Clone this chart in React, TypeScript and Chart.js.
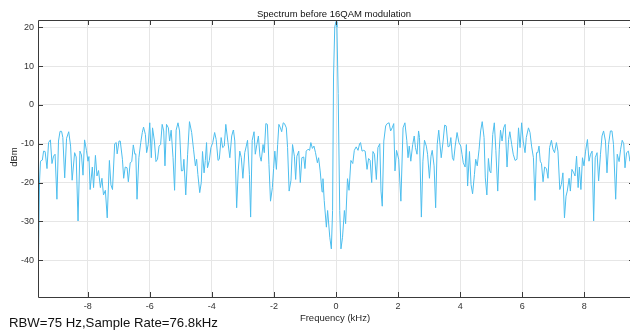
import React, { useEffect, useRef } from "react";
import { Chart, registerables } from "chart.js";

Chart.register(...registerables);

const TITLE = "Spectrum before 16QAM modulation";
const X_LABEL = "Frequency (kHz)";
const Y_LABEL = "dBm";
const FOOTNOTE = "RBW=75 Hz,Sample Rate=76.8kHz";

const X_TICKS = [-8, -6, -4, -2, 0, 2, 4, 6, 8];
const Y_TICKS = [-40, -30, -20, -10, 0, 10, 20];

// Frequency (kHz) of each traced spectrum point
const FREQ_KHZ = [
  -9.6, -9.55, -9.52, -9.46, -9.42, -9.37, -9.31, -9.26, -9.2, -9.15, -9.1, -9.05, -8.99, -8.94, -8.89, -8.84,
  -8.8, -8.74, -8.68, -8.61, -8.55, -8.5, -8.42, -8.37, -8.31, -8.25, -8.2, -8.15, -8.1, -8.04, -7.99, -7.96,
  -7.92, -7.85, -7.81, -7.75, -7.7, -7.65, -7.59, -7.54, -7.49, -7.43, -7.37, -7.3, -7.25, -7.2, -7.13, -7.08,
  -7.05, -6.99, -6.95, -6.88, -6.84, -6.79, -6.73, -6.69, -6.63, -6.58, -6.53, -6.48,
  -6.45, -6.41, -6.35, -6.29, -6.24, -6.2, -6.14, -6.1, -6.05, -6.0, -5.95, -5.91, -5.85, -5.8, -5.75, -5.7,
  -5.65, -5.6, -5.55, -5.51, -5.46, -5.4, -5.36, -5.31, -5.25, -5.2, -5.15, -5.09, -5.04, -4.98, -4.93, -4.9,
  -4.84, -4.78, -4.72, -4.65, -4.59, -4.53, -4.49, -4.45, -4.39, -4.34, -4.3, -4.25, -4.21, -4.17, -4.14, -4.08,
  -4.03, -3.97, -3.91, -3.86, -3.8, -3.76, -3.7, -3.65, -3.6, -3.55, -3.48, -3.42, -3.36, -3.31,
  -3.3, -3.26, -3.2, -3.15, -3.1, -3.05, -3.0, -2.94, -2.89, -2.85, -2.79, -2.75, -2.7, -2.64, -2.6, -2.55,
  -2.5, -2.45, -2.41, -2.35, -2.31, -2.26, -2.21, -2.16, -2.11, -2.05, -2.01, -1.97, -1.92, -1.88, -1.84, -1.79,
  -1.75, -1.7, -1.66, -1.6, -1.56, -1.51, -1.45, -1.4, -1.34, -1.3, -1.26, -1.2, -1.15, -1.1, -1.04, -1.0,
  -0.96, -0.9, -0.85, -0.81, -0.76, -0.71, -0.66, -0.6, -0.56, -0.51, -0.45, -0.42, -0.38, -0.31, -0.27, -0.2,
  -0.15, -0.11, -0.08, -0.04, 0.0, 0.03, 0.07, 0.12, 0.16, 0.21, 0.27, 0.31, 0.37, 0.42, 0.48, 0.54,
  0.59, 0.65, 0.71, 0.76, 0.79, 0.84, 0.89, 0.94, 1.0, 1.05, 1.1, 1.15, 1.19, 1.24, 1.3, 1.35,
  1.41, 1.45, 1.49, 1.54, 1.6, 1.65, 1.71, 1.76, 1.81, 1.86, 1.9, 1.95, 2.02, 2.09, 2.16, 2.22,
  2.28, 2.32, 2.36, 2.41, 2.47, 2.52, 2.56, 2.61, 2.66, 2.69, 2.75, 2.8, 2.85, 2.91, 2.95, 3.01,
  3.06, 3.1, 3.16, 3.21, 3.26, 3.31,
  3.34, 3.39, 3.45, 3.5, 3.55, 3.61, 3.66, 3.7, 3.75, 3.79, 3.84, 3.9, 3.96, 4.02, 4.06, 4.1,
  4.16, 4.2, 4.24, 4.3, 4.35, 4.4, 4.46, 4.5, 4.55, 4.61, 4.66, 4.71, 4.77, 4.81, 4.86, 4.91,
  4.95, 4.99, 5.05, 5.1, 5.15, 5.21, 5.26, 5.3, 5.35, 5.4, 5.45, 5.51, 5.56, 5.6, 5.66, 5.71,
  5.77, 5.83, 5.88, 5.93, 5.98, 6.03, 6.09, 6.13, 6.2, 6.25, 6.3, 6.36, 6.41, 6.46,
  6.5, 6.54, 6.58, 6.62, 6.67, 6.72, 6.78, 6.83, 6.88, 6.94, 6.99, 7.04, 7.1, 7.15, 7.21, 7.26,
  7.31, 7.36, 7.41, 7.45, 7.51, 7.55, 7.6, 7.66, 7.7, 7.75, 7.8, 7.84, 7.89, 7.94, 7.99, 8.04,
  8.1, 8.15, 8.2, 8.25, 8.3, 8.35, 8.41, 8.46, 8.52, 8.57, 8.62, 8.68, 8.73, 8.78, 8.84, 8.89,
  8.94, 9.01, 9.06, 9.12, 9.17, 9.22, 9.27, 9.31, 9.36, 9.42, 9.47, 9.53, 9.6,
];

// Level (dBm) of each traced spectrum point
const LEVEL_DBM = [
  -47, -19.6, -14.5, -14.2, -11.9, -12.0, -16.4, -9.7, -9.0, -15.1, -13.2, -12.7, -24.3, -9.3, -6.8, -6.8,
  -8.4, -18.8, -8.6, -6.9, -10.6, -19.4, -12.3, -13.4, -29.9, -11.9, -12.9, -18.1, -9.0, -11.7, -14.5, -13.3,
  -21.8, -16.0, -21.3, -13.0, -18.3, -16.9, -21.3, -18.9, -23.2, -22.0, -29.1, -14.3, -20.6, -21.8, -10.0, -9.7,
  -12.6, -9.3, -9.3, -14.0, -18.9, -16.0, -16.2, -19.8, -14.9, -14.6, -10.3, -12.7,
  -12.6, -24.3, -13.6, -9.7, -7.1, -5.7, -7.6, -12.3, -10.2, -4.6, -13.6, -5.9, -9.3, -14.6, -14.0, -10.6,
  -10.2, -5.0, -6.7, -15.7, -5.0, -5.9, -9.3, -6.5, -13.6, -22.0, -6.5, -4.6, -6.7, -17.0, -16.9, -14.0,
  -23.2, -12.7, -4.3, -7.1, -11.4, -15.7, -14.0, -17.9, -22.6, -20.0, -12.0, -17.5, -14.3, -9.7, -16.2, -14.3,
  -11.0, -9.7, -7.1, -8.9, -14.3, -14.0, -8.4, -11.0, -10.6, -5.0, -9.7, -13.6, -8.0, -6.5,
  -6.7, -9.3, -26.5, -17.0, -11.9, -13.6, -18.9, -12.3, -10.6, -9.1, -17.9, -28.9, -9.1, -6.9, -12.7, -10.2,
  -8.0, -13.2, -14.5, -10.2, -12.3, -4.8, -5.0, -15.3, -24.8, -21.3, -16.4, -11.9, -16.6, -10.2, -5.0, -5.9,
  -6.9, -4.6, -4.8, -5.9, -11.0, -22.2, -19.4, -10.2, -13.2, -19.2, -13.2, -11.9, -20.0, -13.6, -13.4, -16.4,
  -11.9, -11.4, -11.7, -9.7, -11.2, -10.6, -12.3, -14.9, -13.6, -17.0, -22.4, -19.0, -24.6, -31.5, -27.2, -34.1,
  -37.1, -27.2, 7.2, 20.1, 21.5, 20.1, 2.9, -27.2, -37.1, -34.1, -27.2, -30.6, -19.0, -22.0, -14.3, -15.1,
  -11.7, -10.8, -11.7, -10.0, -9.7, -11.9, -11.7, -11.9, -16.6, -13.8, -14.3, -20.0, -12.0, -12.7, -19.2, -11.0,
  -10.0, -22.2, -26.1, -9.3, -5.4, -4.8, -4.6, -6.7, -5.9, -4.8, -17.0, -11.7, -14.0, -24.8, -5.9, -4.6,
  -9.1, -13.6, -10.6, -14.5, -10.2, -8.0, -11.0, -12.7, -6.7, -8.4, -28.9, -14.5, -9.1, -10.6, -12.7, -18.9,
  -13.2, -11.7, -15.7, -26.5, -10.2, -6.5,
  -9.3, -13.6, -9.3, -5.2, -5.4, -10.8, -10.6, -8.4, -13.6, -14.3, -10.6, -7.1, -9.7, -10.6, -12.7, -14.9,
  -16.0, -10.2, -20.9, -12.0, -20.5, -22.9, -17.9, -14.0, -15.7, -11.4, -6.7, -4.3, -8.4, -18.8, -23.2, -13.8,
  -17.0, -17.5, -7.6, -4.6, -11.7, -22.2, -11.4, -6.5, -9.3, -5.9, -5.0, -16.0, -8.9, -6.9, -10.2, -12.7,
  -14.3, -14.0, -5.9, -11.0, -4.6, -9.3, -12.3, -8.4, -5.9, -7.1, -10.6, -13.6, -24.6, -12.3,
  -12.3, -10.6, -14.5, -15.1, -19.8, -16.0, -16.4, -18.9, -11.0, -9.1, -11.4, -12.3, -9.7, -11.9, -21.8, -20.5,
  -17.5, -29.1, -23.5, -22.2, -18.9, -22.2, -16.6, -17.5, -18.3, -13.2, -21.3, -16.0, -21.8, -13.6, -15.7, -11.9,
  -8.9, -14.5, -12.7, -11.9, -29.9, -13.6, -12.3, -19.6, -12.7, -8.0, -6.7, -9.3, -17.5, -10.2, -6.7, -6.7,
  -10.2, -24.3, -12.7, -14.6, -11.4, -9.1, -10.0, -16.2, -12.3, -11.9, -14.5, -12.0, -13.0,
];

const X_MIN = -9.6;
const X_MAX = 9.6;
const Y_MIN = -49.5;
const Y_MAX = 21.9;

const FONT = "'Liberation Sans', Arial, Helvetica, sans-serif";

const decorPlugin = {
  id: "matlabDecor",
  afterDraw(chart: any) {
    const { ctx, chartArea } = chart;
    const { left, right, top, bottom } = chartArea;
    const xs = chart.scales.x;
    const ys = chart.scales.y;
    ctx.save();
    // box
    ctx.strokeStyle = "#3a3a3a";
    ctx.lineWidth = 1;
    ctx.beginPath();
    ctx.rect(Math.round(left) + 0.5, Math.round(top) + 0.5, Math.round(right - left), Math.round(bottom - top));
    ctx.stroke();
    // inward ticks
    const tl = 5;
    ctx.beginPath();
    X_TICKS.forEach((v) => {
      const px = Math.round(xs.getPixelForValue(v)) + 0.5;
      ctx.moveTo(px, bottom);
      ctx.lineTo(px, bottom - tl);
      ctx.moveTo(px, top);
      ctx.lineTo(px, top + tl);
    });
    Y_TICKS.forEach((v) => {
      const py = Math.round(ys.getPixelForValue(v)) + 0.5;
      ctx.moveTo(left, py);
      ctx.lineTo(left + tl, py);
      ctx.moveTo(right, py);
      ctx.lineTo(right - tl, py);
    });
    ctx.stroke();
    // texts
    ctx.fillStyle = "#111";
    ctx.textAlign = "center";
    ctx.textBaseline = "middle";
    ctx.font = `9.5px ${FONT}`;
    ctx.fillText(TITLE, 334, 14);
    ctx.fillStyle = "#262626";
    ctx.fillText(X_LABEL, 335, 318);
    ctx.save();
    ctx.translate(14, 157);
    ctx.rotate(-Math.PI / 2);
    ctx.fillText(Y_LABEL, 0, 0);
    ctx.restore();
    ctx.fillStyle = "#111";
    ctx.textAlign = "left";
    ctx.font = `13.2px ${FONT}`;
    ctx.fillText(FOOTNOTE, 9, 323);
    ctx.restore();
  },
};

export default function App() {
  const ref = useRef<HTMLCanvasElement | null>(null);
  useEffect(() => {
    if (!ref.current) return;
    const points = FREQ_KHZ.map((f, i) => ({ x: f, y: LEVEL_DBM[i] }));
    const chart = new Chart(ref.current, {
      type: "line",
      data: {
        datasets: [
          {
            data: points,
            borderColor: "#4DBEEE",
            borderWidth: 1,
            pointRadius: 0,
            tension: 0,
            fill: false,
          },
        ],
      },
      options: {
        animation: false,
        responsive: false,
        devicePixelRatio: 1,
        layout: { padding: { top: 20, right: 6, left: 0, bottom: 0 } },
        plugins: { legend: { display: false }, title: { display: false }, tooltip: { enabled: false } },
        scales: {
          x: {
            type: "linear",
            min: X_MIN,
            max: X_MAX,
            afterBuildTicks: (s: any) => {
              s.ticks = X_TICKS.map((v) => ({ value: v }));
            },
            afterFit: (s: any) => {
              s.height = 34;
            },
            grid: { color: "#e6e6e6", drawTicks: false, lineWidth: 1 },
            border: { display: false },
            ticks: {
              autoSkip: false,
              maxRotation: 0,
              padding: 4,
              color: "#333",
              font: { size: 9, family: FONT },
              callback: (v: any) => String(v),
            },
          },
          y: {
            type: "linear",
            min: Y_MIN,
            max: Y_MAX,
            afterBuildTicks: (s: any) => {
              s.ticks = Y_TICKS.map((v) => ({ value: v }));
            },
            afterFit: (s: any) => {
              s.width = 38;
            },
            grid: { color: "#e6e6e6", drawTicks: false, lineWidth: 1 },
            border: { display: false },
            ticks: {
              autoSkip: false,
              padding: 4,
              color: "#333",
              font: { size: 9, family: FONT },
              callback: (v: any) => String(v),
            },
          },
        },
      },
      plugins: [decorPlugin],
    });
    return () => chart.destroy();
  }, []);
  return (
    <div style={{ position: "fixed", left: 0, top: 0, width: 630, height: 331, overflow: "hidden", background: "#fff" }}>
      <canvas ref={ref} width={640} height={331} style={{ width: 640, height: 331, display: "block" }} />
    </div>
  );
}
